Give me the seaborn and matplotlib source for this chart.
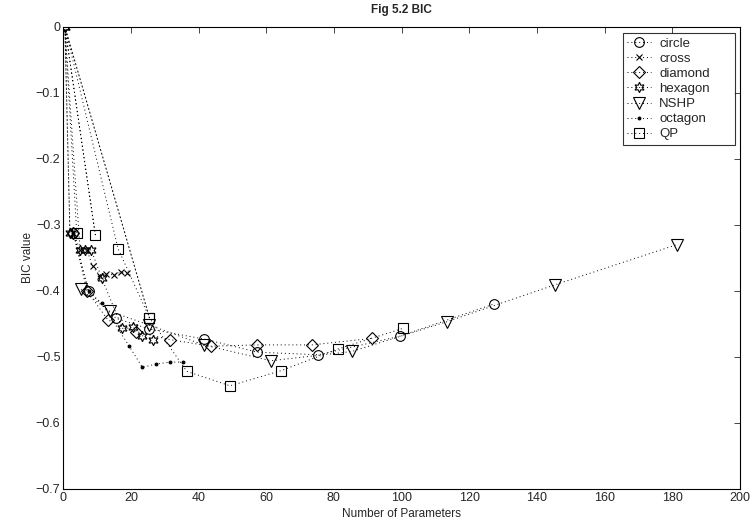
import matplotlib
matplotlib.use("Agg")
import matplotlib.pyplot as plt
import seaborn as sns
import pandas as pd

# BIC values
circle_x = [3, 7.5, 15.7, 25.5, 41.5, 57.4, 75.4, 99.4, 127.3]
circle_y = [-0.312, -0.401, -0.442, -0.458, -0.473, -0.493, -0.497, -0.469, -0.420]

cross_x = [3, 5, 7, 8.7, 10.8, 12.8, 14.9, 17.0, 19.0]
cross_y = [-0.312, -0.338, -0.338, -0.363, -0.377, -0.374, -0.376, -0.372, -0.373]

diamond_x = [3, 7, 13.2, 21.6, 31.6, 43.6, 57.4, 73.5, 91.4]
diamond_y = [-0.312, -0.400, -0.444, -0.462, -0.474, -0.484, -0.482, -0.482, -0.472]

hexagon_x = [0.5, 2, 0.5, 5, 6.5, 8.3, 11.4, 17.5, 20.6, 23.4, 26.4]
hexagon_y = [0, -0.312, 0, -0.338, -0.338, -0.338, -0.381, -0.457, -0.455, -0.468, -0.475]

nshp_x = [5.3, 13.7, 25.5, 41.5, 61.4, 85.3, 113.3, 145.3, 181.4]
nshp_y = [-0.398, -0.431, -0.452, -0.482, -0.506, -0.492, -0.447, -0.391, -0.330]

octagon_x = [3, 7.5, 11.4, 19.4, 23.4, 27.5, 31.5, 35.5]
octagon_y = [-0.312, -0.401, -0.419, -0.483, -0.516, -0.511, -0.508, -0.508]

qp_x = [4, 0.5, 9.5, 0.5, 16.2, 25.5, 0.5, 25.5, 36.5, 49.3, 64.4, 81.3, 100.4]
qp_y = [-0.312, 0, -0.315, 0, -0.336, -0.441, 0, -0.441, -0.522, -0.544, -0.521, -0.488, -0.457]

series = [
    ("circle", circle_x, circle_y, "o", 7),
    ("cross", cross_x, cross_y, "x", 5),
    ("diamond", diamond_x, diamond_y, "D", 6.5),
    ("hexagon", hexagon_x, hexagon_y, (6, 1, 0), 7.5),
    ("NSHP", nshp_x, nshp_y, "v", 8.5),
    ("octagon", octagon_x, octagon_y, ".", 4),
    ("QP", qp_x, qp_y, "s", 6.5),
]

sns.set_style("white")
plt.rcParams["font.family"] = ["Liberation Sans", "DejaVu Sans"]

fig, ax = plt.subplots(figsize=(7.52, 5.25), dpi=100)
fig.subplots_adjust(left=0.084, right=0.984, top=0.949, bottom=0.069)

for name, xs, ys, mk, ms in series:
    df = pd.DataFrame({"x": xs, "y": ys})
    fill = "k" if mk == "." else "none"
    # the zero rows are only where the curve runs back to the origin
    marks = [i for i, v in enumerate(ys) if v != 0 or name == "hexagon"]
    sns.lineplot(data=df, x="x", y="y", ax=ax, sort=False, estimator=None,
                 color="k", lw=0.7, linestyle=(0, (1, 3)), marker=mk, ms=ms,
                 mfc=fill, mec="k", mew=0.8, markevery=marks, label=name)

ax.set_xlim(0, 200)
ax.set_ylim(-0.7, 0)
ax.set_xticks(range(0, 201, 20))
ax.set_yticks([-0.7, -0.6, -0.5, -0.4, -0.3, -0.2, -0.1, 0])
ax.set_yticklabels(["\u22120.7", "\u22120.6", "\u22120.5", "\u22120.4", "\u22120.3",
                    "\u22120.2", "\u22120.1", "0"])
ax.tick_params(direction="in", length=4, labelsize=9, top=True, right=True,
               width=0.6, pad=2)
for s in ax.spines.values():
    s.set_linewidth(0.8)
    s.set_color("k")

ax.set_title("Fig 5.2 BIC", fontsize=8.5, fontweight="bold", pad=10)
ax.set_xlabel("Number of Parameters", fontsize=8.5, labelpad=3)
ax.set_ylabel("BIC value", fontsize=8.5, labelpad=1)

leg = ax.legend(loc="upper left", bbox_to_anchor=(0.827, 0.751, 0.1654, 0.236),
                mode="expand", fontsize=9.5, frameon=True, fancybox=False,
                edgecolor="k", borderpad=0.35, labelspacing=0.22, handlelength=1.8,
                handletextpad=0.6, borderaxespad=0)
leg.get_frame().set_linewidth(0.8)

fig.savefig("out.png", dpi=100)
